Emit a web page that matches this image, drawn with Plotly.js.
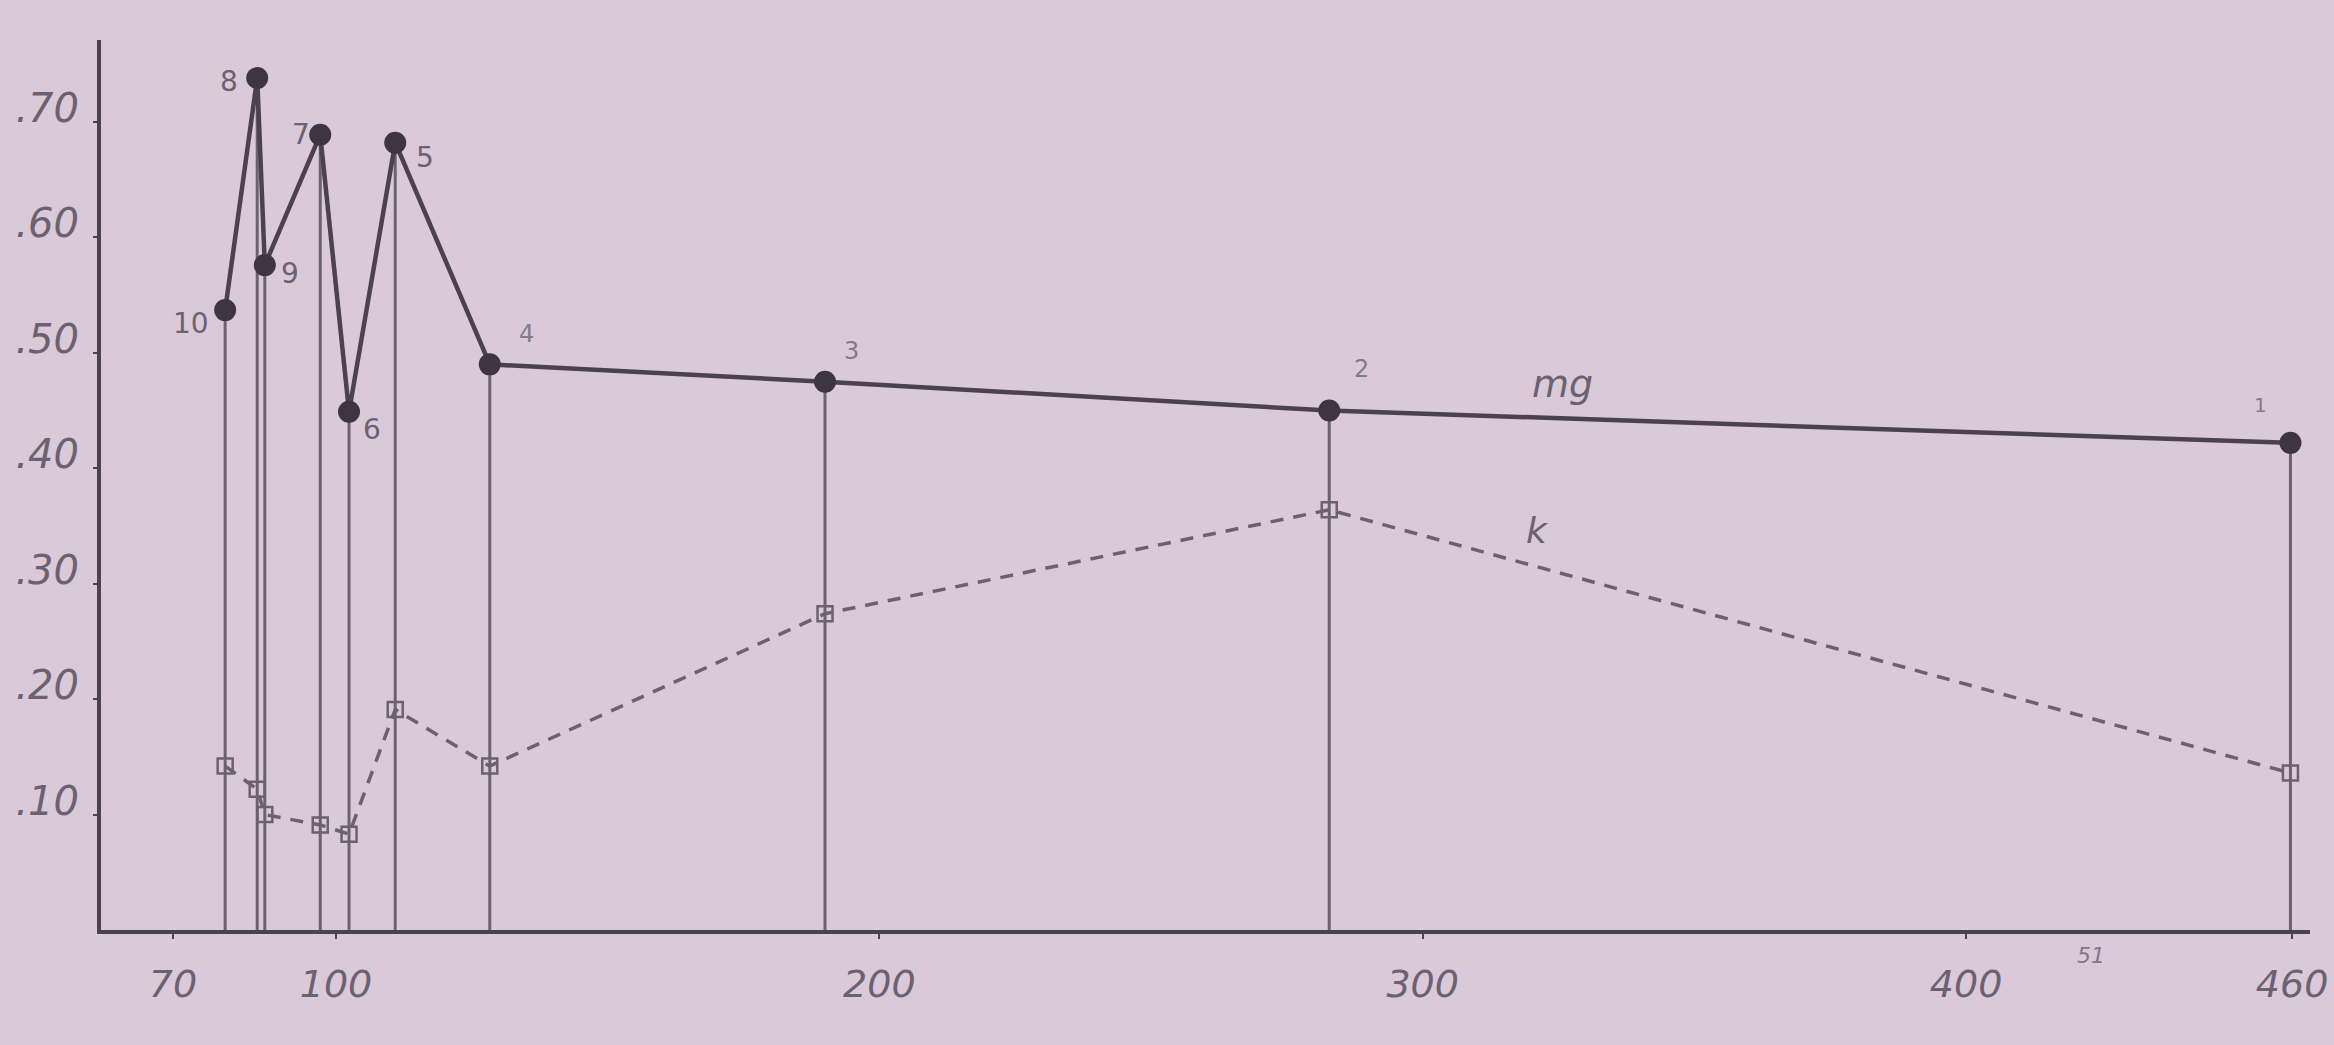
<!DOCTYPE html>
<html>
<head>
<meta charset="utf-8">
<script src="https://cdn.plot.ly/plotly-3.0.1.min.js"></script>
<style>
  html, body { margin: 0; padding: 0; background: #d9c9d9; }
  #chart { width: 2334px; height: 1045px; }
</style>
</head>
<body>
<div id="chart"></div>
<script>
// ---- data (ordered by x) ----
const sampleNo = ['10', '8', '9', '7', '6', '5', '4', '3', '2', '1'];
const xValues  = [79.6, 85.5, 86.9, 97.1, 102.4, 110.9, 128.3, 190.0, 282.8, 459.7];
const mgValues = [0.537, 0.738, 0.576, 0.689, 0.449, 0.682, 0.490, 0.475, 0.450, 0.422];
const kValues  = [0.142, 0.122, 0.100, 0.091, 0.083, 0.191, 0.142, 0.274, 0.364, 0.136];

const xTickVals = [70, 100, 200, 300, 400, 460];
const xTickText = ['70', '100', '200', '300', '400', '460'];
const yTickVals = [0.10, 0.20, 0.30, 0.40, 0.50, 0.60, 0.70];
const yTickText = ['.10', '.20', '.30', '.40', '.50', '.60', '.70'];

// ---- styling ----
const ink = '#4b4150';
const softInk = '#6c6170';
const bg = '#d9c9d9';
const labelFont = 'DejaVu Sans, Verdana, sans-serif';

// label offsets (pixels) for the sample numbers, same order as sampleNo
const labelShift = [
  [-34, -13], [-28, -3], [25, -8], [-19, 0], [23, -18],
  [30, -15], [37, 30], [26, 31], [32, 42], [-30, 38]
];
const labelSize = [28, 28, 28, 28, 28, 28, 24, 24, 24, 20];

// vertical drop lines from the axis up to each mg point
const dropX = [], dropY = [];
xValues.forEach((x, i) => { dropX.push(x, x, null); dropY.push(0, mgValues[i], null); });

const traces = [
  {
    x: dropX, y: dropY, mode: 'lines', type: 'scatter',
    line: { color: softInk, width: 3 }, hoverinfo: 'skip', showlegend: false,
    cliponaxis: false
  },
  {
    x: xValues, y: kValues, mode: 'lines+markers', type: 'scatter', name: 'k',
    line: { color: softInk, width: 3.5, dash: '13px,10px' },
    marker: { symbol: 'square-open', size: 15, color: softInk, line: { width: 2.5, color: softInk } },
    showlegend: false, cliponaxis: false
  },
  {
    x: xValues, y: mgValues, mode: 'lines+markers', type: 'scatter', name: 'mg',
    line: { color: ink, width: 4.5 },
    marker: { symbol: 'circle', size: 22, color: '#3e3442' },
    showlegend: false, cliponaxis: false
  }
];

const annotations = sampleNo.map((s, i) => ({
  x: xValues[i], y: mgValues[i], xref: 'x', yref: 'y', text: s, showarrow: false,
  xshift: labelShift[i][0], yshift: labelShift[i][1],
  font: { family: labelFont, size: labelSize[i], color: i < 6 ? softInk : '#857a88' }
}));

annotations.push(
  { x: 325.8, y: 0.473, xref: 'x', yref: 'y', text: 'mg', showarrow: false,
    font: { family: labelFont, size: 38, color: softInk, style: 'italic' } },
  { x: 321.2, y: 0.346, xref: 'x', yref: 'y', text: 'k', showarrow: false,
    font: { family: labelFont, size: 36, color: softInk, style: 'italic' } },
  { x: 423, y: -0.012, xref: 'x', yref: 'paper', text: '51', showarrow: false,
    yanchor: 'top',
    font: { family: labelFont, size: 22, color: '#837886', style: 'italic' } }
);

const layout = {
  width: 2334, height: 1045,
  paper_bgcolor: bg, plot_bgcolor: bg,
  margin: { l: 101, r: 24, t: 40, b: 114.5, pad: 0 },
  showlegend: false,
  xaxis: {
    range: [56.75, 463.3], tickmode: 'array', tickvals: xTickVals, ticktext: xTickText,
    showgrid: false, zeroline: false, showline: true, linecolor: ink, linewidth: 4,
    ticks: 'outside', ticklen: 5, tickwidth: 2, tickcolor: ink,
    ticklabelstandoff: 12,
    tickfont: { family: labelFont, size: 38, color: softInk, style: 'italic' },
    automargin: false
  },
  yaxis: {
    range: [0, 0.771], tickmode: 'array', tickvals: yTickVals, ticktext: yTickText,
    showgrid: false, zeroline: false, showline: true, linecolor: ink, linewidth: 4,
    ticks: 'outside', ticklen: 4, tickwidth: 2, tickcolor: ink,
    ticklabelshift: -14, ticklabelstandoff: 6,
    tickfont: { family: labelFont, size: 40, color: softInk, style: 'italic' },
    automargin: false
  },
  annotations: annotations
};

Plotly.newPlot('chart', traces, layout, { displayModeBar: false, staticPlot: true });
</script>
</body>
</html>
